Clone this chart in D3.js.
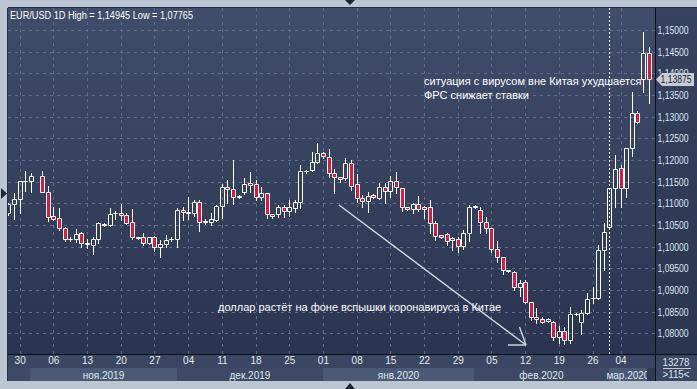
<!DOCTYPE html>
<html><head><meta charset="utf-8">
<script src="https://cdn.jsdelivr.net/npm/d3@7"></script>
<style>body{margin:0;background:#bdc7d4;} svg{display:block}</style>
</head><body><svg id="c" width="697" height="389"></svg>
<script>
// ---- data (EUR/USD daily, bar index 0..114; index 5 has no bar) ----
const openP = [1.10777,1.10978,1.11093,1.11504,1.11504,null,1.11624,1.11268,1.10701,1.10655,
1.10424,1.10171,1.10171,1.10309,1.10078,1.10046,1.10171,1.10530,1.10507,1.10770,
1.10770,1.10724,1.10563,1.10208,1.10217,1.10078,1.10217,1.09986,1.10055,1.10171,
1.10171,1.10846,1.10784,1.10770,1.11024,1.10577,1.10563,1.10616,1.10946,1.11370,
1.11331,1.11153,1.11268,1.11462,1.11439,1.11153,1.11232,1.10747,1.10747,1.10909,
1.10830,1.10899,1.11024,1.11739,1.11769,1.11960,1.12168,1.12076,1.11693,1.11600,
1.11578,1.11923,1.11446,1.11116,1.11054,1.11185,1.11130,1.11370,1.11285,1.11515,
1.11347,1.10909,1.10876,1.10978,1.10909,1.10909,1.10540,1.10263,1.10293,1.10155,
1.10171,1.10016,1.10309,1.10923,1.10846,1.10563,1.10424,1.09940,1.09756,1.09446,
1.09410,1.09077,1.09179,1.08718,1.08386,1.08333,1.08293,1.08270,1.07910,1.08049,
1.07848,1.08441,1.08256,1.08478,1.08805,1.08810,1.09924,1.10447,1.11347,1.11808,
1.11347,1.12269,1.13077,1.13861,1.14460];
const highP = [1.11008,1.11232,1.11515,1.11746,1.11711,null,1.11746,1.11400,1.10909,1.10886,
1.10461,1.10217,1.10401,1.10346,1.10178,1.10231,1.10570,1.10547,1.10886,1.10823,
1.10985,1.10777,1.10869,1.10231,1.10309,1.10217,1.10247,1.10155,1.10270,1.10212,
1.10893,1.10923,1.11139,1.11077,1.11077,1.10632,1.10770,1.10969,1.11446,1.11538,
1.12000,1.11192,1.11578,1.11716,1.11538,1.11384,1.11238,1.10754,1.10962,1.10962,
1.11077,1.11077,1.11884,1.11769,1.12191,1.12385,1.12173,1.12246,1.11785,1.11607,
1.12053,1.12000,1.11677,1.11192,1.11268,1.11215,1.11462,1.11462,1.11631,1.11723,
1.11354,1.10916,1.11001,1.11169,1.10939,1.11077,1.10593,1.10281,1.10323,1.10231,
1.10231,1.10385,1.10962,1.10962,1.10909,1.10678,1.10431,1.10138,1.09769,1.09463,
1.09446,1.09232,1.09232,1.08725,1.08579,1.08372,1.08362,1.08293,1.08171,1.08155,
1.08602,1.08471,1.08540,1.08925,1.09077,1.10039,1.10540,1.11354,1.12115,1.11884,
1.12276,1.13575,1.13137,1.14945,1.14613];
const lowP = [1.10731,1.10639,1.10777,1.11273,1.11262,null,1.11250,1.10600,1.10616,1.10385,
1.10138,1.10138,1.10115,1.09986,1.09963,1.09832,1.10092,1.10477,1.10477,1.10632,
1.10616,1.10517,1.10178,1.10178,1.10039,1.10055,1.09908,1.09769,1.09993,1.10131,
1.10000,1.10616,1.10639,1.10708,1.10369,1.10524,1.10500,1.10593,1.10655,1.11015,
1.10985,1.11116,1.11215,1.11268,1.11077,1.11077,1.10655,1.10655,1.10678,1.10678,
1.10708,1.10807,1.10886,1.11707,1.11746,1.11937,1.12039,1.11614,1.11232,1.11499,
1.11538,1.11308,1.11038,1.10909,1.10807,1.11116,1.11100,1.11015,1.11139,1.11245,
1.10830,1.10846,1.10770,1.10830,1.10669,1.10323,1.10155,1.10201,1.10039,1.09924,
1.09885,1.09940,1.10138,1.10893,1.10323,1.10309,1.09885,1.09647,1.09370,1.09410,
1.09001,1.08863,1.08695,1.08309,1.08247,1.08233,1.08270,1.07848,1.07772,1.07765,
1.07768,1.08418,1.07987,1.08448,1.08695,1.08794,1.09463,1.10443,1.10923,1.10923,
1.11146,1.12092,1.12860,1.13575,1.13321];
const closeP = [1.10996,1.11093,1.11504,1.11515,1.11624,null,1.11268,1.10685,1.10646,1.10424,
1.10171,1.10178,1.10286,1.10078,1.10069,1.10178,1.10540,1.10494,1.10747,1.10766,
1.10724,1.10554,1.10217,1.10212,1.10078,1.10217,1.09986,1.10055,1.10155,1.10178,
1.10846,1.10793,1.10793,1.11024,1.10577,1.10581,1.10639,1.10939,1.11370,1.11324,
1.11153,1.11158,1.11446,1.11430,1.11153,1.11232,1.10747,1.10708,1.10909,1.10823,
1.10909,1.11024,1.11739,1.11746,1.11960,1.12168,1.12092,1.11693,1.11600,1.11554,
1.11923,1.11407,1.11116,1.11054,1.11176,1.11146,1.11370,1.11285,1.11515,1.11370,
1.10909,1.10863,1.10978,1.10863,1.10863,1.10540,1.10254,1.10217,1.10138,1.10208,
1.10016,1.10309,1.10916,1.10927,1.10577,1.10424,1.09940,1.09751,1.09463,1.09451,
1.09077,1.09156,1.08718,1.08372,1.08326,1.08270,1.08339,1.07924,1.08049,1.07848,
1.08448,1.08448,1.08478,1.08787,1.08810,1.09924,1.10346,1.11347,1.11785,1.11347,
1.12269,1.13077,1.12883,1.14460,1.13875];

const yTicks = [1.08,1.085,1.09,1.095,1.10,1.105,1.11,1.115,1.12,1.125,1.13,1.135,1.14,1.145,1.15];
const xTickIdx = [2,8,14,20,26,32,38,44,50,56,62,68,74,80,86,92,98,104,109];
const xTickLabels = ["30","06","13","20","27","04","11","18","25","01","08","15","22","29","05","12","19","26","04"];
const monthLabels = ["ноя.2019","дек.2019","янв.2020","фев.2020","мар.2020"];
const monthFrom = [3.85, 30, 56, 82.9, 106.9];
const monthTo   = [30, 56, 82.9, 106.9, 113.7];
const lastPrice = 1.13875;
const titleText = "EUR/USD 1D High = 1,14945 Low = 1,07765";
const note1 = ["ситуация с вирусом вне Китая ухудшается", "ФРС снижает ставки"];
const note2 = "доллар растёт на фоне вспышки коронавируса в Китае";
const barCount = "13278", barsShown = ">115<";

// ---- layout ----
const W = 697, H = 389;
const L = 8, T = 8, R = 655, B = 354, AXB = 381;
const svg = d3.select("#c");
const x = d3.scaleLinear().domain([0, 114]).range([8.4, 648.7]);
const y = d3.scaleLinear().domain([1.08, 1.15]).range([333.4, 29.9]);
const fmt = v => d3.format(".5f")(v).replace(".", ",");
const FONT = "Liberation Sans, Arial, sans-serif";

const defs = svg.append("defs");
const gp = defs.append("linearGradient").attr("id","gp").attr("x1",0).attr("y1",0).attr("x2",0).attr("y2",1);
gp.append("stop").attr("offset","0%").attr("stop-color","#404d6a");
gp.append("stop").attr("offset","100%").attr("stop-color","#2a3450");
const ga = defs.append("linearGradient").attr("id","ga").attr("x1",0).attr("y1",0).attr("x2",0).attr("y2",1);
ga.append("stop").attr("offset","0%").attr("stop-color","#36425e");
ga.append("stop").attr("offset","100%").attr("stop-color","#2a3550");
defs.append("clipPath").attr("id","clip").append("rect").attr("x",L).attr("y",T).attr("width",R-L).attr("height",B-T);

// frame
svg.append("rect").attr("width",W).attr("height",H).attr("fill","#bdc7d4");
svg.append("rect").attr("x",L).attr("y",T).attr("width",R-L).attr("height",B-T).attr("fill","url(#gp)");
svg.append("rect").attr("x",R).attr("y",T).attr("width",W-R).attr("height",B-T).attr("fill","url(#ga)");
svg.append("rect").attr("x",L).attr("y",B).attr("width",W-L).attr("height",AXB-B).attr("fill","#3a4662");
svg.append("rect").attr("x",L).attr("y",368).attr("width",R-L).attr("height",AXB-368).attr("fill","#3d4965");
monthLabels.forEach((m,k)=>{
  const x0 = x(monthFrom[k]), x1 = x(monthTo[k]);
  if (k % 2 === 0) svg.append("rect").attr("x",x0).attr("y",368).attr("width",x1-x0).attr("height",AXB-368).attr("fill","#4b5977");
  svg.append("text").attr("x",(x0+x1)/2).attr("y",378.5).attr("text-anchor","middle")
    .attr("font-family",FONT).attr("font-size","10px").attr("fill","#dfe6f0").text(m);
});
svg.append("rect").attr("x",x(113.7)).attr("y",368).attr("width",R-x(113.7)).attr("height",AXB-368).attr("fill","#2f3a55");

// gridlines
const grid = svg.append("g").attr("clip-path","url(#clip)");
grid.selectAll("line.h").data(yTicks).join("line")
  .attr("x1",L).attr("x2",R).attr("y1",d=>Math.round(y(d))+0.5).attr("y2",d=>Math.round(y(d))+0.5)
  .attr("stroke","#5d6d8c").attr("stroke-dasharray","3,4");
grid.selectAll("line.v").data(xTickIdx).join("line")
  .attr("y1",T).attr("y2",B).attr("x1",d=>Math.round(x(d))+0.5).attr("x2",d=>Math.round(x(d))+0.5)
  .attr("stroke","#5d6d8c").attr("stroke-dasharray","3,4");

// current-day dashed separator
grid.append("line").attr("x1",Math.round(x(107))+0.5).attr("x2",Math.round(x(107))+0.5).attr("y1",T).attr("y2",B)
  .attr("stroke","#ffffff").attr("stroke-dasharray","2,2");

// candles
const data = openP.map((o,i)=>({i,o,h:highP[i],l:lowP[i],c:closeP[i]})).filter(d=>d.o!=null);
const cg = svg.append("g").attr("clip-path","url(#clip)");
data.forEach(d=>{
  const cx = Math.round(x(d.i));
  const top = Math.round(y(Math.max(d.o,d.c))), bot = Math.round(y(Math.min(d.o,d.c)));
  const hi = Math.round(y(d.h)), lo = Math.round(y(d.l));
  if (hi < top) cg.append("line").attr("x1",cx+0.5).attr("x2",cx+0.5).attr("y1",hi).attr("y2",top).attr("stroke","#fff");
  if (lo > bot) cg.append("line").attr("x1",cx+0.5).attr("x2",cx+0.5).attr("y1",bot+1).attr("y2",lo+1).attr("stroke","#fff");
  const bear = d.c < d.o;
  cg.append("path")
    .attr("d",`M${cx-1.5},${top+0.5}h4v${bot-top}h-4Z`)
    .attr("fill", bear ? "#e3173e" : "none")
    .attr("stroke","#fff").attr("stroke-width",1);
});

// borders
svg.append("line").attr("x1",R+0.5).attr("x2",R+0.5).attr("y1",T).attr("y2",AXB).attr("stroke","#0b0f18");
svg.append("line").attr("x1",L).attr("x2",W).attr("y1",B+0.5).attr("y2",B+0.5).attr("stroke","#0b0f18");
svg.append("line").attr("x1",L).attr("x2",W).attr("y1",T-0.5).attr("y2",T-0.5).attr("stroke","#26304a");
svg.append("line").attr("x1",L-0.5).attr("x2",L-0.5).attr("y1",T).attr("y2",AXB).attr("stroke","#26304a");

// y axis (right)
const ly = Math.round(y(lastPrice)) + 0.5;
const yAxis = d3.axisRight(y).tickValues(yTicks).tickFormat(fmt).tickSize(0).tickPadding(0);
const ya = svg.append("g").attr("transform",`translate(673,0)`).call(yAxis);
ya.select(".domain").remove();
ya.selectAll("text").attr("text-anchor","middle").attr("dy","0.35em")
  .attr("font-family",FONT).attr("font-size","10px").attr("fill","#dde6f2")
  .attr("textLength",31).attr("lengthAdjust","spacingAndGlyphs");
// the label hidden behind the last-price marker: keep only its visible top part
defs.append("clipPath").attr("id","clipHidden").append("rect")
  .attr("x",-30).attr("y",-12).attr("width",60).attr("height",(ly-6.5) - y(1.14) + 12);
ya.selectAll(".tick").filter(d=>Math.abs(d-1.14)<1e-9).select("text").attr("clip-path","url(#clipHidden)");

// x axis
const xAxis = d3.axisBottom(x).tickValues(xTickIdx).tickFormat((d,k)=>xTickLabels[k]).tickSize(0).tickPadding(0);
const xa = svg.append("g").attr("transform",`translate(0,357)`).call(xAxis);
xa.select(".domain").remove();
xa.selectAll("text").attr("font-family",FONT).attr("font-size","10px").attr("fill","#e2e8f2").attr("dy","0.71em");

// last price marker
svg.append("path").attr("d",`M656,${ly}L662,${ly-6.5}H694V${ly+6.5}H662Z`).attr("fill","#c8cdd5");
svg.append("text").attr("x",676).attr("y",ly).attr("dy","0.35em").attr("text-anchor","middle")
  .attr("font-family",FONT).attr("font-size","10px").attr("fill","#1b2233")
  .attr("textLength",31).attr("lengthAdjust","spacingAndGlyphs").text(fmt(lastPrice));

// bottom-right box
svg.append("text").attr("x",676).attr("y",366).attr("text-anchor","middle").attr("font-family",FONT).attr("font-size","10px")
  .attr("fill","#dde6f2").attr("textLength",27).attr("lengthAdjust","spacingAndGlyphs").text(barCount);
svg.append("line").attr("x1",663).attr("x2",691).attr("y1",368.5).attr("y2",368.5).attr("stroke","#c4ccd8");
svg.append("text").attr("x",676).attr("y",378).attr("text-anchor","middle").attr("font-family",FONT).attr("font-size","10px")
  .attr("fill","#dde6f2").attr("textLength",27).attr("lengthAdjust","spacingAndGlyphs").text(barsShown);

// title
svg.append("text").attr("x",10).attr("y",19).attr("font-family",FONT).attr("font-size","10px")
  .attr("fill","#ffffff").attr("textLength",183).attr("lengthAdjust","spacingAndGlyphs").text(titleText);

// annotations
note1.forEach((t,k)=>svg.append("text").attr("x",424).attr("y",85+k*14).attr("font-family",FONT)
  .attr("font-size","11px").attr("fill","#ffffff").text(t));
svg.append("text").attr("x",218).attr("y",311).attr("font-family",FONT).attr("font-size","11px").attr("fill","#ffffff").text(note2);

// arrow
const ag = svg.append("g").attr("stroke","#d4dae4").attr("stroke-width",1.4).attr("fill","none");
ag.append("line").attr("x1",339).attr("y1",205).attr("x2",526).attr("y2",345);
ag.append("line").attr("x1",519.5).attr("y1",327).attr("x2",526).attr("y2",345);
ag.append("line").attr("x1",508).attr("y1",345).attr("x2",526).attr("y2",345);

// scroll triangles
svg.append("path").attr("d","M1,188L7,193.5L1,199Z").attr("fill","#1d2638");
svg.append("path").attr("d","M345,0H355L350,5Z").attr("fill","#1d2638");
svg.append("path").attr("d","M345,389H355L350,383Z").attr("fill","#1d2638");
</script></body></html>
